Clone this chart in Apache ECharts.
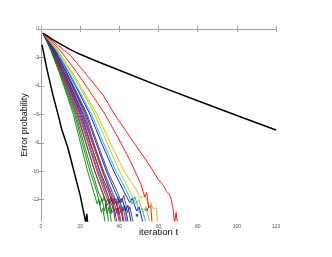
<!DOCTYPE html>
<html><head><meta charset="utf-8">
<script src="https://cdn.jsdelivr.net/npm/echarts@6/dist/echarts.min.js"></script>
<style>html,body{margin:0;padding:0;background:#fff}#c{width:332px;height:257px}</style>
</head><body><div id="c"></div>
<script>
var xTicks = [0, 20, 40, 60, 80, 100, 120];
var yTicks = [0, -2, -4, -6, -8, -10, -12];

var blackSlow = [[1,-0.3],[3,-0.47],[6,-0.74],[10,-1.06],[15,-1.45],[20,-1.78],[30,-2.36],[40,-2.9],[60,-4.0],[80,-5.05],[100,-6.08],[120,-7.1]];
var blackFast = [[0.5,-1.1],[3,-2.8],[6.1,-4.65],[8.5,-5.9],[10.7,-7.1],[13.8,-8.4],[17,-10.1],[20,-11.7],[22.4,-13.3],[22.8,-13.6],[23.4,-13.0],[23.8,-13.6]];

var s01 = [[1,-0.3],[5.0,-1.5],[9.1,-3],[12.9,-4.5],[16.5,-6],[20.1,-8],[23.8,-10],[27.0,-11.5],[28.7,-12.3],[29.5,-12.0],[30.8,-12.9],[31.6,-12.6],[32.7,-13.6]];
var s02 = [[1,-0.3],[5.2,-1.5],[9.5,-3],[13.4,-4.5],[17.2,-6],[21.0,-8],[25.0,-10],[28.4,-11.4],[30.2,-12.4],[31.0,-11.9],[32.4,-12.8],[33.3,-12.3],[34.5,-13.6]];
var s03 = [[1,-0.3],[5.3,-1.5],[9.8,-3],[13.9,-4.5],[17.8,-6],[21.8,-8],[26.0,-10],[29.6,-11.6],[31.5,-12.1],[32.4,-11.8],[33.8,-13.0],[34.7,-12.5],[36.0,-13.6]];
var s04 = [[1,-0.3],[5.5,-1.5],[10.1,-3],[14.3,-4.5],[18.3,-6],[22.8,-8],[27.5,-10],[31.6,-11.5],[33.7,-12.4],[34.7,-12.1],[36.3,-12.9],[37.4,-12.7],[38.8,-13.6]];
var s05 = [[1,-0.3],[5.6,-1.5],[10.3,-3],[14.7,-4.5],[18.8,-6],[23.0,-8],[27.4,-10],[31.3,-11.5],[33.2,-12.2],[34.2,-11.9],[35.7,-13.0],[36.7,-12.4],[38.0,-13.6]];
var s06 = [[1,-0.3],[5.8,-1.5],[10.6,-3],[15.1,-4.5],[19.3,-6],[23.9,-8],[28.6,-10],[32.8,-11.6],[34.8,-12.3],[35.9,-11.8],[37.5,-12.8],[38.6,-12.6],[40.0,-13.6]];
var s07 = [[1,-0.3],[5.9,-1.5],[10.9,-3],[15.4,-4.5],[19.8,-6],[24.4,-8],[29.1,-10],[33.3,-11.5],[35.3,-12.2],[36.4,-12.0],[38.0,-13.1],[39.1,-12.6],[40.5,-13.6]];
var s08 = [[1,-0.3],[6.1,-1.5],[11.2,-3],[15.8,-4.5],[20.3,-6],[25.1,-8],[30.1,-10],[34.4,-11.4],[36.6,-12.3],[37.7,-11.9],[39.4,-12.8],[40.5,-12.4],[42.0,-13.6]];
var s09 = [[1,-0.3],[6.2,-1.5],[11.4,-3],[16.2,-4.5],[20.8,-6],[25.2,-8],[29.9,-10],[33.9,-11.6],[36.0,-12.4],[37.0,-12.0],[38.6,-12.9],[39.6,-12.7],[41.0,-13.6]];
var s10 = [[1,-0.3],[6.4,-1.5],[11.7,-3],[16.5,-4.5],[21.2,-6],[26.1,-8],[31.2,-10],[35.7,-11.5],[37.9,-12.2],[39.0,-11.9],[40.8,-12.9],[41.9,-12.5],[43.5,-13.6]];
var s11 = [[1,-0.3],[6.5,-1.5],[11.9,-3],[16.8,-4.5],[21.6,-6],[26.6,-8],[31.9,-10],[36.5,-11.5],[38.8,-12.3],[39.9,-12.0],[41.8,-12.8],[42.9,-12.5],[44.5,-13.6]];
var s12 = [[1,-0.3],[6.6,-1.5],[12.1,-3],[17.2,-4.5],[22.0,-6],[26.8,-8],[31.9,-10],[36.3,-11.4],[38.5,-12.2],[39.6,-11.8],[41.4,-12.9],[42.5,-12.4],[44.0,-13.6]];
var s13 = [[1,-0.3],[6.8,-1.5],[12.4,-3],[17.6,-4.5],[22.5,-6],[26.9,-8],[31.5,-10],[35.5,-11.6],[37.5,-12.3],[38.5,-12.1],[40.1,-13.0],[41.1,-12.6],[42.5,-13.6]];
var s14 = [[1,-0.3],[6.9,-1.5],[12.7,-3],[17.9,-4.5],[23.0,-6],[28.1,-8],[33.4,-10],[38.0,-11.5],[40.3,-12.2],[41.4,-11.9],[43.2,-12.8],[44.4,-12.4],[46.0,-13.6]];
var s15 = [[1,-0.3],[7.1,-1.5],[13.0,-3],[18.4,-4.5],[23.6,-6],[28.7,-8],[34.1,-10],[38.8,-11.4],[41.2,-12.2],[42.3,-11.7],[44.2,-12.9],[45.4,-12.5],[47.0,-13.6]];
var s16 = [[1,-0.3],[7.5,-1.5],[13.8,-3],[19.5,-4.5],[25.0,-6],[30.9,-8],[37.2,-10],[42.6,-11.5],[45.3,-12.2],[46.6,-11.9],[48.8,-12.8],[50.1,-12.5],[52.0,-13.6]];
var s17 = [[1,-0.3],[7.7,-1.5],[14.2,-3],[20.1,-4.5],[25.8,-6],[31.9,-8],[38.3,-10],[43.8,-11.4],[46.6,-12.3],[48.0,-11.8],[50.2,-12.9],[51.6,-12.6],[53.5,-13.6]];
var s18 = [[1,-0.3],[8.3,-1.5],[15.1,-3],[21.5,-4.5],[27.5,-6],[33.7,-8],[40.1,-10],[45.7,-11.5],[48.5,-12.3],[49.9,-12.0],[52.1,-12.9],[53.5,-12.5],[55.5,-13.6]];
var s19 = [[1,-0.3],[8.6,-1.5],[15.7,-3],[22.3,-4.5],[28.6,-6],[35.4,-8],[42.5,-10],[48.7,-11.3],[51.0,-11.9],[53.0,-11.7],[55.0,-12.4],[56.0,-12.2],[57.0,-12.6],[59.0,-12.6],[59.5,-13.6]];
var s20 = [[1,-0.3],[9.8,-1.5],[18.0,-3],[25.5,-4.5],[32.7,-6],[40.0,-7.8],[46.0,-9.4],[49.0,-10.3],[51.0,-10.9],[53.0,-11.8],[54.0,-11.5],[55.0,-12.6],[56.0,-12.4],[56.7,-13.6]];
var s21 = [[1,-0.3],[15,-1.85],[22,-3],[31.7,-4.65],[37.8,-6.05],[47,-7.9],[56,-9.7],[60,-10.6],[62.5,-11.0],[64,-11.4],[65.5,-11.6],[66.5,-12.0],[67.4,-12.6],[68.2,-13.6],[69.0,-12.9],[69.6,-13.6]];
var blueDots = [[49,-13.1],[54,-12.7]];

var B='#0000ff', G='#008000', R='#ff0000', C='#00bfbf', M='#bf00bf', Y='#bfbf00', K='#404040';
var lines = [
  [s01,G],[s02,G],[s03,G],[s04,M],[s05,G],[s06,R],[s07,M],[s08,B],[s09,G],[s10,R],
  [s11,B],[s12,C],[s13,R],[s14,B],[s15,K],[s16,B],[s17,C],[s18,Y],[s19,Y],[s20,R],[s21,R]
];

var series = [];
lines.forEach(function(l){
  series.push({type:'line', data:l[0], showSymbol:false, animation:false, clip:true,
    lineStyle:{color:l[1], width:0.9}, itemStyle:{color:l[1]}});
});
series.push({type:'line', data:blackSlow, showSymbol:false, animation:false, clip:true, lineStyle:{color:'#000', width:1.5}});
series.push({type:'line', data:blackFast, showSymbol:false, animation:false, clip:true, lineStyle:{color:'#000', width:1.5}});
series.push({type:'scatter', data:blueDots, symbol:'rect', symbolSize:2.5, animation:false, itemStyle:{color:B}});

var axisCol = '#a0a0a0', labCol = '#555';
var FONT = 'Liberation Sans';
var chart = echarts.init(document.getElementById('c'), null, {renderer:'canvas'});
chart.setOption({
  animation:false,
  backgroundColor:'#fff',
  grid:{left:41, right:56, top:29, bottom:36, containLabel:false},
  xAxis:[{
    type:'value', min:0, max:120, interval:20, position:'bottom',
    name:'iteration t', nameLocation:'middle', nameGap:6, nameMoveOverlap:false,
    nameTextStyle:{fontFamily:FONT, fontSize:9.5, color:'#111', verticalAlign:'top'},
    axisLine:{show:true, lineStyle:{color:axisCol, width:1}},
    axisTick:{show:true, inside:true, length:3, lineStyle:{color:axisCol}},
    axisLabel:{show:true, fontSize:5, color:labCol, fontFamily:FONT, margin:3,
      customValues:xTicks},
    splitLine:{show:false}
  },{
    type:'value', min:0, max:120, interval:20, position:'top',
    axisLine:{show:true, lineStyle:{color:axisCol, width:1}},
    axisTick:{show:true, inside:true, length:3, lineStyle:{color:axisCol}},
    axisLabel:{show:false}, splitLine:{show:false}
  }],
  yAxis:[{
    type:'value', min:-13.5, max:0, position:'left',
    name:'Error probability', nameLocation:'middle', nameGap:12, nameMoveOverlap:false,
    nameTextStyle:{fontFamily:FONT, fontSize:9, color:'#111'},
    axisLine:{show:true, lineStyle:{color:axisCol, width:1}},
    axisTick:{show:true, inside:true, length:3, lineStyle:{color:axisCol}, customValues:yTicks},
    axisLabel:{show:true, fontSize:5, color:labCol, fontFamily:FONT, margin:2, customValues:yTicks},
    splitLine:{show:false}
  },{
    type:'value', min:-13.5, max:0, position:'right',
    axisLine:{show:true, lineStyle:{color:axisCol, width:1}},
    axisTick:{show:true, inside:true, length:3, lineStyle:{color:axisCol}, customValues:yTicks},
    axisLabel:{show:false}, splitLine:{show:false}
  }],
  series:series
});
</script>
</body></html>
